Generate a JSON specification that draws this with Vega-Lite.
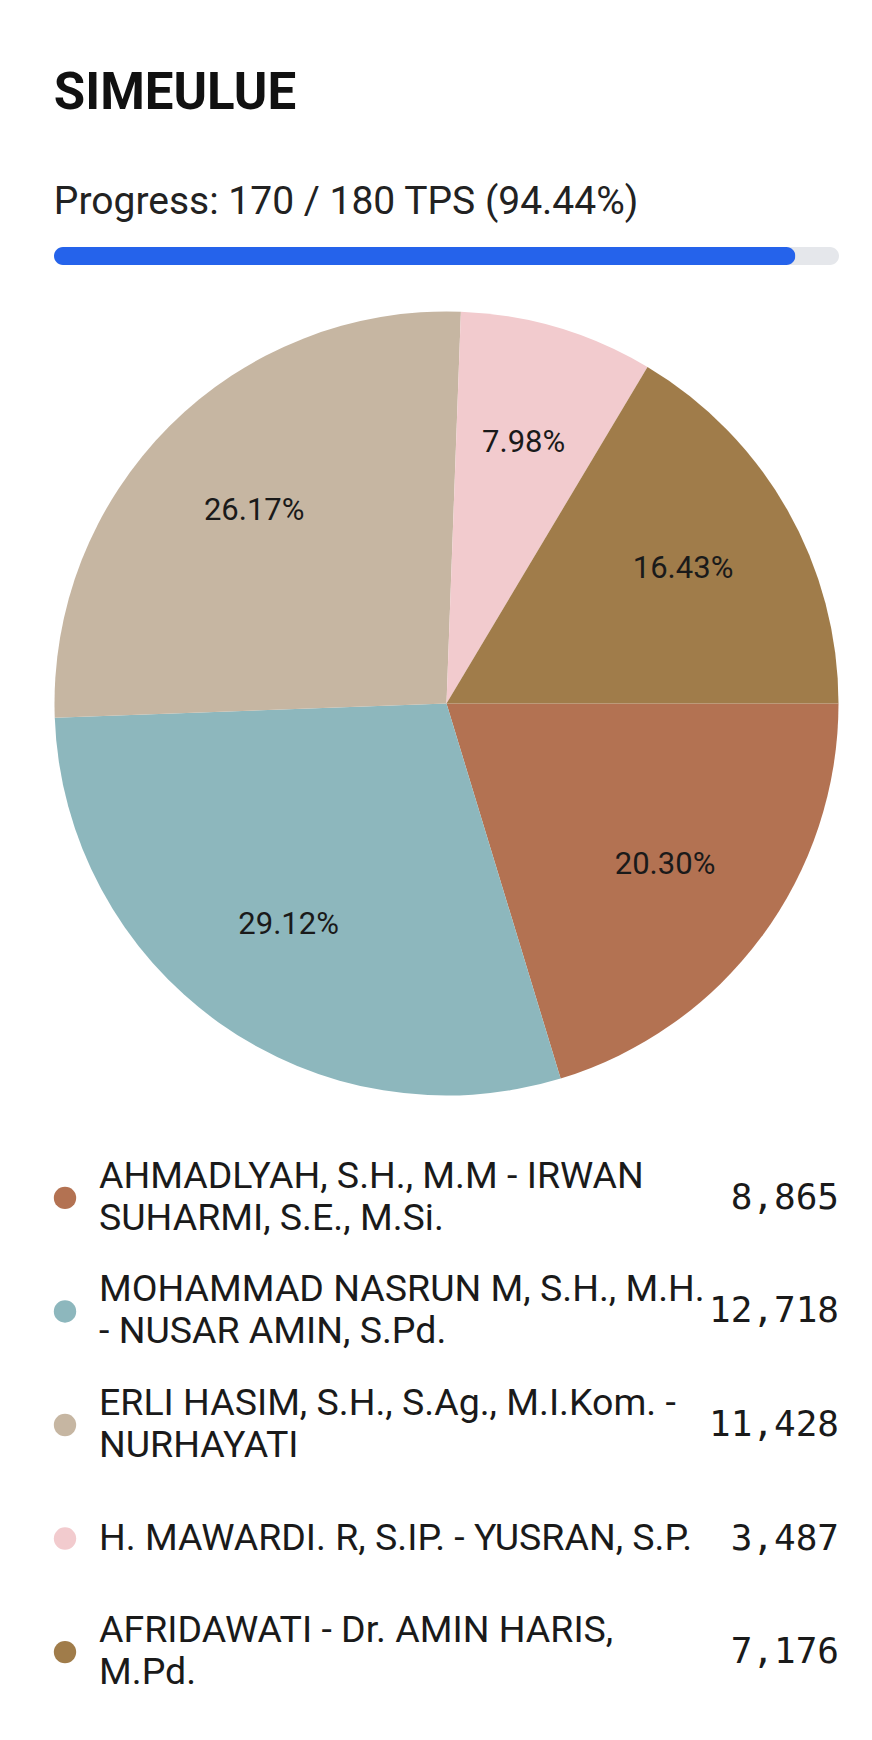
{
  "$schema": "https://vega.github.io/schema/vega-lite/v6.json",
  "background": "white",
  "padding": {"left": 53, "right": 34, "top": 68, "bottom": 0},
  "config": {"view": {"stroke": null}},
  "title": {
    "text": "SIMEULUE",
    "subtitle": "Progress: 170 / 180 TPS (94.44%)",
    "anchor": "start",
    "font": "Roboto",
    "fontSize": 51,
    "fontWeight": "bold",
    "color": "#111111",
    "subtitleFont": "Roboto",
    "subtitleFontSize": 39,
    "subtitleColor": "#222222",
    "subtitlePadding": 63,
    "offset": 24
  },
  "datasets": {
    "progress": [{"done": 170, "total": 180}],
    "votes": [
      {"candidate": "AHMADLYAH, S.H., M.M - IRWAN\nSUHARMI, S.E., M.Si.", "votes": 8865},
      {"candidate": "MOHAMMAD NASRUN M, S.H., M.H.\n- NUSAR AMIN, S.Pd.", "votes": 12718},
      {"candidate": "ERLI HASIM, S.H., S.Ag., M.I.Kom. -\nNURHAYATI", "votes": 11428},
      {"candidate": "H. MAWARDI. R, S.IP. - YUSRAN, S.P.", "votes": 3487},
      {"candidate": "AFRIDAWATI - Dr. AMIN HARIS,\nM.Pd.", "votes": 7176}
    ]
  },
  "spacing": 44,
  "vconcat": [
    {
      "width": 785,
      "height": 20,
      "data": {"name": "progress"},
      "encoding": {
        "y": {"datum": "TPS", "type": "nominal", "axis": null, "scale": {"paddingInner": 0, "paddingOuter": 0}}
      },
      "layer": [
        {
          "mark": {"type": "bar", "color": "#E5E7EB", "cornerRadius": 10},
          "encoding": {
            "x": {"field": "total", "type": "quantitative", "scale": {"domain": [0, 180]}, "axis": null}
          }
        },
        {
          "mark": {"type": "bar", "color": "#2563EB", "cornerRadius": 10},
          "encoding": {
            "x": {"field": "done", "type": "quantitative", "scale": {"domain": [0, 180]}, "axis": null}
          }
        }
      ]
    },
    {
      "width": 785,
      "height": 785,
      "data": {"name": "votes"},
      "transform": [
        {"window": [{"op": "row_number", "as": "i"}]},
        {"joinaggregate": [{"op": "sum", "field": "votes", "as": "all"}]},
        {"calculate": "format(datum.votes / datum.all, '.2%')", "as": "pct"}
      ],
      "encoding": {
        "theta": {"field": "votes", "type": "quantitative", "stack": true, "scale": {"range": [1.5707963, 7.8539816]}},
        "order": {"field": "i", "type": "quantitative"},
        "color": {
          "field": "candidate",
          "type": "nominal",
          "legend": null,
          "scale": {
            "domain": [
              "AHMADLYAH, S.H., M.M - IRWAN\nSUHARMI, S.E., M.Si.",
              "MOHAMMAD NASRUN M, S.H., M.H.\n- NUSAR AMIN, S.Pd.",
              "ERLI HASIM, S.H., S.Ag., M.I.Kom. -\nNURHAYATI",
              "H. MAWARDI. R, S.IP. - YUSRAN, S.P.",
              "AFRIDAWATI - Dr. AMIN HARIS,\nM.Pd."
            ],
            "range": ["#B37252", "#8DB7BD", "#C6B6A2", "#F2CBCE", "#A07C4A"]
          }
        }
      },
      "layer": [
        {"mark": {"type": "arc", "radius": 392}},
        {
          "mark": {"type": "text", "radius": 272, "font": "Roboto", "fontSize": 31},
          "encoding": {"text": {"field": "pct"}, "color": {"value": "#1a1a1a"}}
        }
      ]
    },
    {
      "width": 785,
      "height": 570,
      "data": {"name": "votes"},
      "transform": [
        {"calculate": "length(split(datum.candidate, '\\n'))", "as": "lines"}
      ],
      "encoding": {
        "y": {"field": "candidate", "type": "ordinal", "sort": null, "axis": null, "scale": {"type": "point", "padding": 0.51}}
      },
      "layer": [
        {
          "mark": {"type": "point", "filled": true, "shape": "circle", "size": 500, "opacity": 1},
          "encoding": {
            "x": {"value": 11},
            "color": {"field": "candidate", "type": "nominal", "legend": null}
          }
        },
        {
          "mark": {"type": "text", "align": "left", "baseline": "middle", "lineBreak": "\n", "lineHeight": 42, "font": "Roboto", "fontSize": 37.5, "color": "#1a1a1a"},
          "encoding": {
            "x": {"value": 45},
            "yOffset": {"field": "lines", "type": "quantitative", "scale": {"domain": [1, 2], "range": [0, -21]}},
            "text": {"field": "candidate"}
          }
        },
        {
          "mark": {"type": "text", "align": "right", "baseline": "middle", "font": "DejaVu Sans Mono", "fontSize": 36, "color": "#1a1a1a"},
          "encoding": {
            "x": {"value": "width"},
            "text": {"field": "votes", "format": ",d"}
          }
        }
      ]
    }
  ]
}
